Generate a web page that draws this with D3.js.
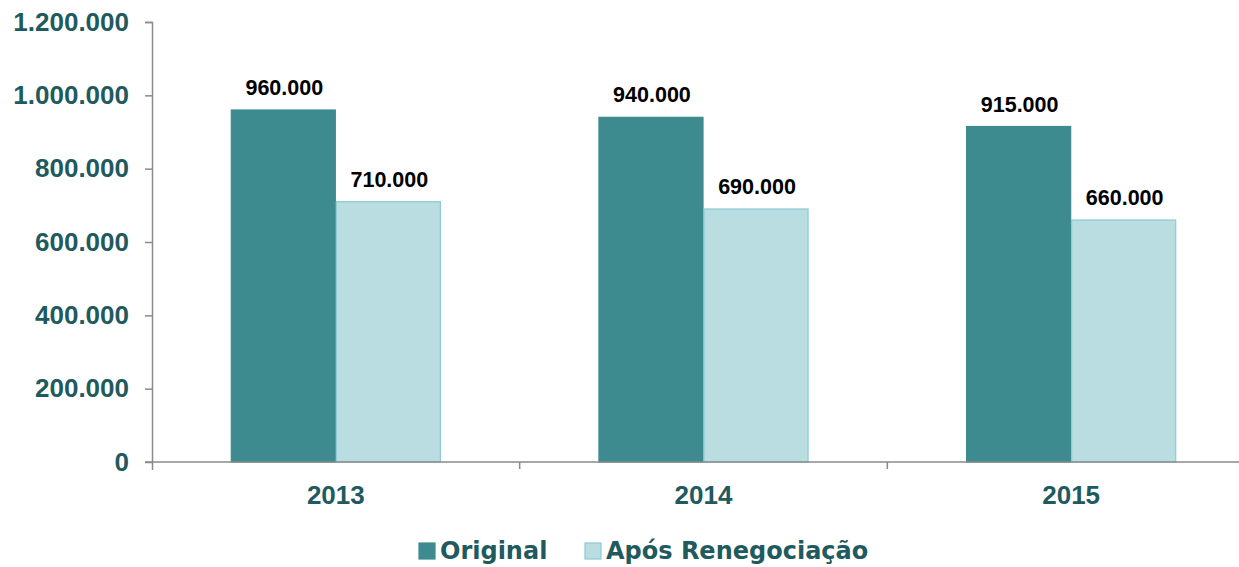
<!DOCTYPE html>
<html>
<head>
<meta charset="utf-8">
<title>Original vs Após Renegociação</title>
<script src="https://cdn.jsdelivr.net/npm/d3@7"></script>
<style>
  body { margin: 0; background: #fff; overflow: hidden; }
  svg { display: block; }
</style>
</head>
<body>
<div id="chart"></div>
<script>
// data
var years = ["2013", "2014", "2015"];
var original = [960000, 940000, 915000];
var aposReneg = [710000, 690000, 660000];
var seriesNames = ["Original", "Após Renegociação"];
var yTicks = [0, 200000, 400000, 600000, 800000, 1000000, 1200000];

var W = 1239, H = 567;
// plot area runs a little past the right edge, as in the source
var m = {top: 22, left: 152, bottom: 105};
var w = 1103, h = H - m.top - m.bottom;

var fmt = function (v) {
  return v === 0 ? "0" : d3.format(",")(v).replace(/,/g, ".");
};

var svg = d3.select("#chart").append("svg").attr("width", W).attr("height", H);
var g = svg.append("g").attr("transform", "translate(" + m.left + "," + m.top + ")");

var x = d3.scaleBand().domain(years).range([0, w]);
var y = d3.scaleLinear().domain([0, 1200000]).range([h, 0]);
var xs = d3.scaleBand().domain(seriesNames).range([0, x.bandwidth()]).paddingOuter(0.75);

var colors = {fill: ["#3d8b8f", "#badde2"], stroke: ["#3d8b8f", "#8ccad2"]};
var rows = years.map(function (yr, i) {
  return [{s: 0, year: yr, v: original[i]}, {s: 1, year: yr, v: aposReneg[i]}];
});

var grp = g.selectAll(".grp").data(rows).enter().append("g")
  .attr("transform", function (d) { return "translate(" + x(d[0].year) + ",0)"; });

grp.selectAll("rect").data(function (d) { return d; }).enter().append("rect")
  .attr("x", function (d) { return xs(seriesNames[d.s]) + 0.5; })
  .attr("width", xs.bandwidth() - 1)
  .attr("y", function (d) { return y(d.v); })
  .attr("height", function (d) { return h - y(d.v); })
  .style("fill", function (d) { return colors.fill[d.s]; })
  .style("stroke", function (d) { return colors.stroke[d.s]; })
  .style("stroke-width", 1.2);

grp.selectAll("text").data(function (d) { return d; }).enter().append("text")
  .attr("x", function (d) { return xs(seriesNames[d.s]) + xs.bandwidth() / 2 + 1; })
  .attr("y", function (d) { return y(d.v) - 15; })
  .attr("text-anchor", "middle")
  .style("font-family", "Liberation Sans, Arial, sans-serif")
  .style("font-weight", "bold")
  .style("font-size", "21.5px")
  .style("fill", "#000")
  .text(function (d) { return fmt(d.v); });

// y axis
var ya = g.append("g").call(d3.axisLeft(y).tickValues(yTicks).tickFormat(fmt).tickSize(7).tickPadding(16));
ya.select(".domain").attr("d", "M-7,0.5H0.5V" + (h + 8));
ya.selectAll(".tick line").attr("stroke", "#8a8a8a").attr("stroke-width", 1.5);
ya.select(".domain").attr("stroke", "#8a8a8a").attr("stroke-width", 1.5);
ya.selectAll("text")
  .style("font-family", "Liberation Sans, Arial, sans-serif")
  .style("font-weight", "bold")
  .style("font-size", "26px")
  .style("fill", "#1f5a5e");

// x axis
var xa = g.append("g").attr("transform", "translate(0," + h + ")");
xa.append("line").attr("x1", -7).attr("x2", w).attr("stroke", "#8a8a8a").attr("stroke-width", 1.5);
xa.selectAll(".xt").data(years.slice(1)).enter().append("line")
  .attr("x1", function (d) { return x(d); }).attr("x2", function (d) { return x(d); })
  .attr("y1", 0).attr("y2", 7).attr("stroke", "#8a8a8a").attr("stroke-width", 1.5);
xa.selectAll(".xl").data(years).enter().append("text")
  .attr("x", function (d) { return x(d) + x.bandwidth() / 2; })
  .attr("y", 42)
  .attr("text-anchor", "middle")
  .style("font-family", "Liberation Sans, Arial, sans-serif")
  .style("font-weight", "bold")
  .style("font-size", "26px")
  .style("fill", "#1f5a5e")
  .text(function (d) { return d; });

// legend
var leg = svg.append("g").attr("transform", "translate(0," + 560 + ")");
var legX = [419, 585];
seriesNames.forEach(function (name, i) {
  var lg = leg.append("g").attr("transform", "translate(" + legX[i] + ",0)");
  lg.append("rect").attr("x", 0).attr("y", -17).attr("width", 16).attr("height", 16)
    .style("fill", colors.fill[i]).style("stroke", colors.stroke[i]).style("stroke-width", 1.2);
  lg.append("text").attr("x", 21).attr("y", -1)
    .style("font-family", "DejaVu Sans, Verdana, sans-serif")
    .style("font-weight", "bold")
    .style("font-size", "24px")
    .style("fill", "#1f5a5e")
    .text(name);
});
</script>
</body>
</html>
